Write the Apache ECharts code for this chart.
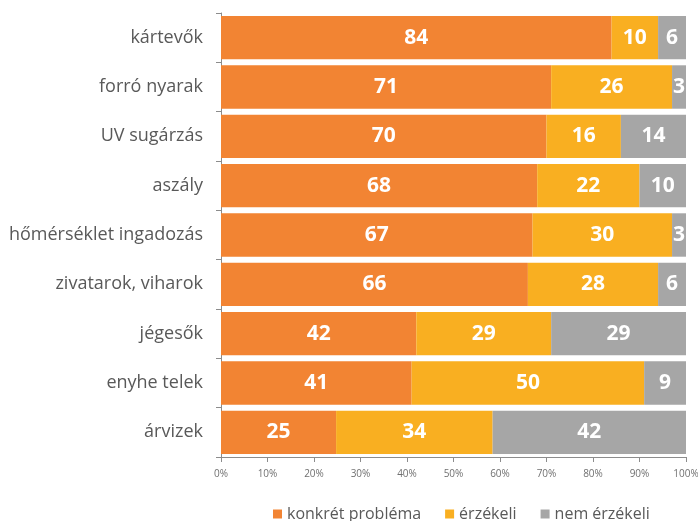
<!DOCTYPE html>
<html>
<head>
<meta charset="utf-8">
<script src="https://cdn.jsdelivr.net/npm/echarts@6/dist/echarts.min.js"></script>
<style>
  html, body { margin: 0; padding: 0; background: #fff; }
  #chart { width: 698px; height: 521px; }
</style>
</head>
<body>
<div id="chart"></div>
<script>
// adatok (felülről lefelé)
var categories = ['kártevők', 'forró nyarak', 'UV sugárzás', 'aszály', 'hőmérséklet ingadozás',
  'zivatarok, viharok', 'jégesők', 'enyhe telek', 'árvizek'];
var konkret = [84, 71, 70, 68, 67, 66, 42, 41, 25];
var erzekeli = [10, 26, 16, 22, 30, 28, 29, 50, 34];
var nemErzekeli = [6, 3, 14, 10, 3, 6, 29, 9, 42];
var xTicks = ['0%', '10%', '20%', '30%', '40%', '50%', '60%', '70%', '80%', '90%', '100%'];

var myChart = echarts.init(document.getElementById('chart'));

// 100%-os halmozás, mint az Excelben
function pct(arr) {
  return arr.map(function (v, i) {
    var total = konkret[i] + erzekeli[i] + nemErzekeli[i];
    return { value: v / total * 100, raw: v };
  });
}

var labelOpt = {
  show: true,
  position: 'inside',
  color: '#fff',
  fontWeight: 'bold',
  fontSize: 21,
  fontFamily: 'Open Sans',
  formatter: function (p) { return p.data.raw; }
};

option = {
  animation: false,
  grid: { left: 221, right: 12, top: 13, bottom: 64, outerBoundsMode: 'none' },
  legend: {
    top: 501,
    left: 268,
    itemWidth: 9,
    itemHeight: 9,
    itemGap: 24,
    icon: 'rect',
    textStyle: { color: '#595959', fontSize: 16, fontFamily: 'Open Sans' },
    data: ['konkrét probléma', 'érzékeli', 'nem érzékeli']
  },
  xAxis: {
    type: 'value',
    min: 0,
    max: 100,
    interval: 10,
    splitLine: { show: false },
    axisLine: { show: true, lineStyle: { color: '#8c8c8c' } },
    axisTick: { show: true, length: 5, lineStyle: { color: '#8c8c8c' } },
    axisLabel: {
      color: '#707070', fontSize: 10, fontFamily: 'Open Sans', margin: 12,
      formatter: function (v) { return xTicks[Math.round(v / 10)]; }
    }
  },
  yAxis: {
    type: 'category',
    inverse: true,
    data: categories,
    axisLine: { show: true, lineStyle: { color: '#8c8c8c' } },
    axisTick: { show: true, length: 5, lineStyle: { color: '#8c8c8c' } },
    axisLabel: { color: '#595959', fontSize: 18, fontFamily: 'Open Sans', margin: 18 }
  },
  series: [
    {
      name: 'konkrét probléma', type: 'bar', stack: 'a', barCategoryGap: '12%',
      itemStyle: { color: '#F28433' }, label: labelOpt, data: pct(konkret)
    },
    {
      name: 'érzékeli', type: 'bar', stack: 'a', barCategoryGap: '12%',
      itemStyle: { color: '#F9AF21' }, label: labelOpt, data: pct(erzekeli)
    },
    {
      name: 'nem érzékeli', type: 'bar', stack: 'a', barCategoryGap: '12%',
      itemStyle: { color: '#A6A6A6' }, label: labelOpt, data: pct(nemErzekeli)
    }
  ]
};

myChart.setOption(option);
</script>
</body>
</html>
